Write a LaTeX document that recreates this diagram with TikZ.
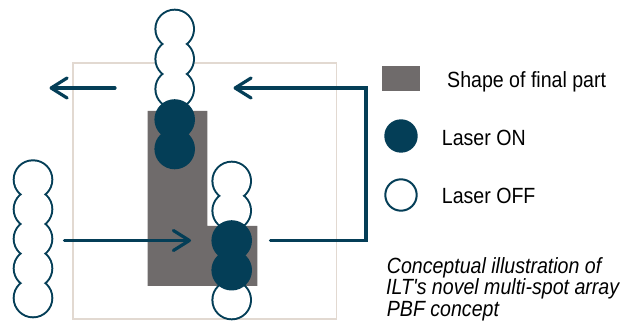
\documentclass[tikz,border=0pt]{standalone}
\usepackage{fontspec}
\setmainfont{Liberation Sans}[FakeStretch=0.89]
\newfontfamily\capfont{Liberation Sans}[FakeStretch=0.89]
\usetikzlibrary{arrows.meta}
\definecolor{navy}{HTML}{043E57}
\definecolor{partgray}{HTML}{6F6B6B}
\definecolor{framecol}{HTML}{E2D9D1}
\begin{document}
\begin{tikzpicture}[x=1pt,y=-1pt,
  conn/.style={draw=navy, line width=3.2pt, line cap=round, line join=miter},
  tipped/.style={-{Straight Barb[length=16pt,width=20pt,line cap=round,line join=round]}},
  offring/.style={draw=navy, line width=4pt},
  offfill/.style={fill=white},
  onspot/.style={fill=navy},
  lbl/.style={anchor=base west, inner sep=0pt, font=\fontsize{22}{22}\selectfont},
  captxt/.style={anchor=base west, inner sep=0pt, font=\capfont\fontsize{22}{22}\selectfont\itshape}]
\useasboundingbox (0,0) rectangle (625,326);
% frame of the build area
\draw[framecol, line width=1.6pt] (73,63) rectangle (336.5,319.3);
% shape of final part
\fill[partgray] (147.5,111) -- (207.3,111) -- (207.3,225.8) -- (257.3,225.8) -- (257.3,286) -- (147.5,286) -- cycle;
% off spots: outline pass
\foreach \cx/\cy in {174.7/29,174.7/59,174.7/89,
                     231.7/181,231.7/210.7,231.7/300,
                     33/179.6,33/209.2,33/238.8,33/268.4,33/298}
  {\draw[offring] (\cx,\cy) circle[radius=18.3pt];}
% off spots: fill pass
\foreach \cx/\cy in {174.7/29,174.7/59,174.7/89,
                     231.7/181,231.7/210.7,231.7/300,
                     33/179.6,33/209.2,33/238.8,33/268.4,33/298}
  {\fill[offfill] (\cx,\cy) circle[radius=18.3pt];}
% on spots
\foreach \cx/\cy in {174.7/119.5,174.7/149,231.7/240.5,231.7/270.2}
  {\fill[onspot] (\cx,\cy) circle[radius=20.3pt];}
% connectors
\coordinate (tlS) at (115,88);
\coordinate (tlE) at (49.5,88);
\draw[conn,tipped] (tlS) -- (tlE);
\coordinate (rS) at (270.5,240.5);
\coordinate (rC1) at (366,240.5);
\coordinate (rC2) at (366,88);
\coordinate (rE) at (233.5,88);
\draw[conn,tipped] (rS) -- (rC1) -- (rC2) -- (rE);
\coordinate (bS) at (64.5,240.5);
\coordinate (bE) at (191,240.5);
\draw[conn,tipped] (bS) -- (bE);
% legend
\fill[partgray] (381.7,66) rectangle (420,90.7);
\node[lbl] (lgshape) at (447,88) {Shape of final part};
\fill[onspot] (401,136) circle[radius=16.7pt];
\node[lbl] (lgon) at (441.7,146) {Laser ON};
\draw[draw=navy, line width=2pt] (401,195) circle[radius=15.7pt];
\node[lbl] (lgoff) at (441.7,204) {Laser OFF};
% caption
\node[captxt] (c1) at (386.7,273.3) {Conceptual illustration of};
\node[captxt] (c2) at (386,295) {ILT's novel multi-spot array};
\node[captxt] (c3) at (386.7,316.8) {PBF concept};
\end{tikzpicture}
\end{document}
